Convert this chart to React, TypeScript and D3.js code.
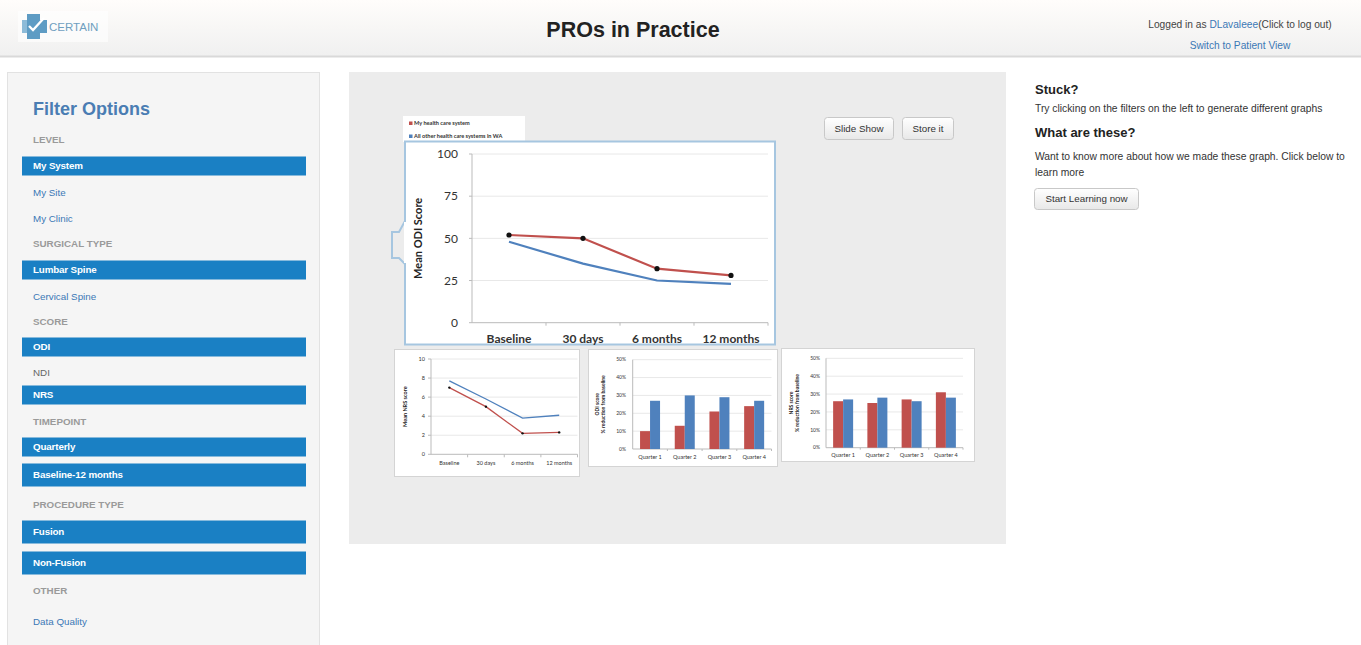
import React from "react";
import * as d3 from "d3";

// ---- data ----
const timepoints = ["Baseline", "30 days", "6 months", "12 months"];
const odiMySystem = [52, 50, 32, 28];
const odiOthers = [48, 35, 25, 23];
const odiTicks = [0, 25, 50, 75, 100];

const nrsMySystem = [7, 5, 2.2, 2.3];
const nrsOthers = [7.7, 5.8, 3.8, 4.1];
const nrsTicks = [0, 2, 4, 6, 8, 10];

const quarters = ["Quarter 1", "Quarter 2", "Quarter 3", "Quarter 4"];
const odiReductionMy = [10, 13, 21, 24];
const odiReductionOthers = [27, 30, 29, 27];
const nrsReductionMy = [26, 25, 27, 31];
const nrsReductionOthers = [27, 28, 26, 28];
const pctTicks = [0, 10, 20, 30, 40, 50];

const seriesNames = ["My health care system", "All other health care systems in WA"];

const filterItems = [
  { label: "LEVEL", kind: "head" },
  { label: "My System", kind: "on" },
  { label: "My Site", kind: "link" },
  { label: "My Clinic", kind: "link" },
  { label: "SURGICAL TYPE", kind: "head" },
  { label: "Lumbar Spine", kind: "on" },
  { label: "Cervical Spine", kind: "link" },
  { label: "SCORE", kind: "head" },
  { label: "ODI", kind: "on" },
  { label: "NDI", kind: "plain" },
  { label: "NRS", kind: "on" },
  { label: "TIMEPOINT", kind: "head" },
  { label: "Quarterly", kind: "on" },
  { label: "Baseline-12 months", kind: "on" },
  { label: "PROCEDURE TYPE", kind: "head" },
  { label: "Fusion", kind: "on" },
  { label: "Non-Fusion", kind: "on" },
  { label: "OTHER", kind: "head" },
  { label: "Data Quality", kind: "link" },
];
// vertical centre of each sidebar row, and bar heights for active ones
const filterY = [140, 166, 193, 219, 244, 270, 297, 322, 347, 373, 395, 422, 447, 475, 505, 532, 563, 591, 622];
const filterBarH = [0, 19, 0, 0, 0, 19, 0, 0, 19, 0, 19, 0, 19, 23, 0, 23, 23, 0, 0];

const RED = "#c0504d";
const BLUE = "#4f81bd";
const UI = "'Liberation Sans', Arial, Helvetica, sans-serif";
const XL = "Lato, 'Open Sans', sans-serif";

function LineChart({ x0, x1, y0, y1, ticks, max, my, others, fs, dot, title, tickX, labelY, titleX, bold }) {
  const x = d3.scaleBand().domain(timepoints).range([x0, x1]);
  const y = d3.scaleLinear().domain([0, max]).range([y0, y1]);
  const line = d3
    .line<number>()
    .x((d, i) => x(timepoints[i])! + x.bandwidth() / 2)
    .y((d) => y(d));
  return (
    <g>
      {ticks.map((t) => (
        <g key={t}>
          {t > 0 && <line x1={x0} x2={x1} y1={y(t)} y2={y(t)} stroke="#e8e8e8" strokeWidth={1} />}
          <line x1={x0 - 3} x2={x0} y1={y(t)} y2={y(t)} stroke="#bbb" />
          <text x={tickX} y={y(t)} dy="0.35em" textAnchor="end" fontSize={fs} fontFamily={XL} fill="#333">
            {t}
          </text>
        </g>
      ))}
      <line x1={x0} x2={x0} y1={y0} y2={y1} stroke="#bbb" />
      <line x1={x0} x2={x1} y1={y0} y2={y0} stroke="#bbb" />
      {timepoints.map((c, i) => (
        <g key={c}>
          <line x1={x(c)! + x.bandwidth()} x2={x(c)! + x.bandwidth()} y1={y0} y2={y0 + 3} stroke="#bbb" />
          <text
            x={x(c)! + x.bandwidth() / 2}
            y={labelY}
            dy="0.35em"
            textAnchor="middle"
            fontSize={fs}
            fontWeight={bold ? 700 : 400}
            fontFamily={XL}
            fill="#333"
          >
            {c}
          </text>
        </g>
      ))}
      <path d={line(others)!} fill="none" stroke={BLUE} strokeWidth={dot > 2 ? 2.2 : 1.3} />
      <path d={line(my)!} fill="none" stroke={RED} strokeWidth={dot > 2 ? 2.2 : 1.3} />
      {my.map((v, i) => (
        <circle key={i} cx={x(timepoints[i])! + x.bandwidth() / 2} cy={y(v)} r={dot} fill="#111" />
      ))}
      <text
        transform={`translate(${titleX},${(y0 + y1) / 2}) rotate(-90)`}
        textAnchor="middle"
        dy="0.35em"
        fontSize={bold ? 11 : 5.5}
        fontWeight={700}
        fontFamily={XL}
        fill="#222"
      >
        {title}
      </text>
    </g>
  );
}

function BarChart({ x0, x1, y0, y1, my, others, title, tickX, labelY, titleX }) {
  const x = d3.scaleBand().domain(quarters).range([x0, x1]);
  const y = d3.scaleLinear().domain([0, 50]).range([y0, y1]);
  const bw = 10;
  return (
    <g>
      {pctTicks.map((t) => (
        <g key={t}>
          {t > 0 && <line x1={x0} x2={x1} y1={y(t)} y2={y(t)} stroke="#e8e8e8" />}
          <text x={tickX} y={y(t)} dy="0.35em" textAnchor="end" fontSize={5} fontFamily={XL} fill="#333">
            {t}%
          </text>
        </g>
      ))}
      <line x1={x0} x2={x0} y1={y0} y2={y1} stroke="#bbb" />
      <line x1={x0} x2={x1} y1={y0} y2={y0} stroke="#bbb" />
      {quarters.map((q, i) => {
        const cx = x(q)! + x.bandwidth() / 2;
        return (
          <g key={q}>
            <line x1={x(q)! + x.bandwidth()} x2={x(q)! + x.bandwidth()} y1={y0} y2={y0 + 2} stroke="#bbb" />
            <rect x={cx - bw} y={y(my[i])} width={bw} height={y0 - y(my[i])} fill={RED} />
            <rect x={cx} y={y(others[i])} width={bw} height={y0 - y(others[i])} fill={BLUE} />
            <text x={cx} y={labelY} dy="0.35em" textAnchor="middle" fontSize={5.5} fontFamily={XL} fill="#333">
              {q}
            </text>
          </g>
        );
      })}
      <text
        transform={`translate(${titleX},${(y0 + y1) / 2}) rotate(-90)`}
        textAnchor="middle"
        fontSize={5}
        fontWeight={700}
        fontFamily={XL}
        fill="#222"
      >
        <tspan x={0} dy="-0.1em">{title}</tspan>
        <tspan x={0} dy="1.25em">% reduction from baseline</tspan>
      </text>
    </g>
  );
}

function Button({ x, y, w, h, label, fs }) {
  return (
    <g>
      <rect x={x} y={y} width={w} height={h} rx={3} fill="url(#btn)" stroke="#c8c8c8" />
      <text x={x + w / 2} y={y + h / 2} dy="0.35em" textAnchor="middle" fontSize={fs} fontFamily={UI} fill="#333">
        {label}
      </text>
    </g>
  );
}

export default function App() {
  return (
    <svg
      width={1361}
      height={645}
      style={{ position: "absolute", left: 0, top: 0, background: "#fff" }}
    >
      <defs>
        <linearGradient id="hdr" x1="0" y1="0" x2="0" y2="1">
          <stop offset="0" stopColor="#fffdfb" />
          <stop offset="1" stopColor="#f0f0f0" />
        </linearGradient>
        <linearGradient id="btn" x1="0" y1="0" x2="0" y2="1">
          <stop offset="0" stopColor="#ffffff" />
          <stop offset="1" stopColor="#e8e8e8" />
        </linearGradient>
      </defs>

      {/* header */}
      <rect x={0} y={0} width={1361} height={56} fill="url(#hdr)" />
      <line x1={0} x2={1361} y1={56.5} y2={56.5} stroke="#d9d9d9" strokeWidth={2} />
      <g>
        <rect x={18} y={11} width={90} height={31} fill="#fff" opacity={0.6} />
        <rect x={27} y={14} width={13} height={25} fill="#5e9cc4" />
        <rect x={22} y={20} width={25} height={13} fill="#5e9cc4" />
        <rect x={22} y={20} width={5} height={13} fill="#8dbbd8" />
        <path d="M29,26 L33,30 L44,18" fill="none" stroke="#fff" strokeWidth={2.3} />
        <text x={49} y={30.5} fontSize={11.5} fontFamily={UI} fill="#6f9fc0">
          CERTAIN
        </text>
      </g>
      <text x={633} y={37} textAnchor="middle" fontSize={21.5} fontWeight={700} fontFamily={UI} fill="#222">
        PROs in Practice
      </text>
      <text x={1240} y={28} textAnchor="middle" fontSize={10.2} fontFamily={UI} fill="#444">
        Logged in as <tspan fill="#3b78b5">DLavaleee</tspan>(Click to log out)
      </text>
      <text x={1240} y={49} textAnchor="middle" fontSize={10.2} fontFamily={UI} fill="#3b78b5">
        Switch to Patient View
      </text>

      {/* sidebar */}
      <rect x={7.5} y={72.5} width={312} height={590} fill="#f5f5f5" stroke="#e2e2e2" />
      <text x={33} y={115} fontSize={18} fontWeight={700} fontFamily={UI} fill="#4a7db3">
        Filter Options
      </text>
      {filterItems.map((f, i) => (
        <g key={f.label}>
          {f.kind === "on" && (
            <rect x={22} y={filterY[i] - filterBarH[i] / 2} width={284} height={filterBarH[i]} fill="#1a80c4" />
          )}
          <text
            x={33}
            y={filterY[i]}
            dy="0.35em"
            fontSize={f.kind === "head" ? 9.8 : 9.8}
            fontWeight={f.kind === "head" || f.kind === "on" ? 700 : 400}
            fontFamily={UI}
            letterSpacing={f.kind === "on" ? -0.15 : 0}
            fill={f.kind === "head" ? "#9a9a9a" : f.kind === "on" ? "#fff" : f.kind === "link" ? "#3b78b5" : "#666"}
          >
            {f.label}
          </text>
        </g>
      ))}

      {/* main panel */}
      <rect x={349} y={72} width={657} height={472} fill="#ececec" />
      <Button x={824.5} y={117.5} w={69} h={22} label="Slide Show" fs={9.8} />
      <Button x={902.5} y={117.5} w={51} h={22} label="Store it" fs={9.8} />

      {/* legend */}
      <rect x={403} y={116} width={122} height={26} fill="#fff" />
      {seriesNames.map((s, i) => (
        <g key={s}>
          <rect x={409} y={121.5 + i * 13} width={3.5} height={3.5} fill={i === 0 ? RED : BLUE} />
          <text x={414} y={123.3 + i * 13} dy="0.35em" fontSize={5.6} fontWeight={700} fontFamily={XL} fill="#333">
            {s}
          </text>
        </g>
      ))}

      {/* main chart box with notch */}
      <rect x={405} y={141.5} width={370} height={203} fill="#fff" stroke="#a6c6e0" strokeWidth={2} />
      <path d="M405,221 L399,232 L392,232 L392,258 L399,258 L405,264" fill="#ececec" stroke="#a6c6e0" strokeWidth={2} />
      <rect x={404} y={222} width={3} height={41} fill="#fff" />
      <LineChart
        x0={472}
        x1={768}
        y0={322.7}
        y1={154}
        ticks={odiTicks}
        max={100}
        my={odiMySystem}
        others={odiOthers}
        fs={12}
        dot={2.6}
        title="Mean ODI Score"
        tickX={458}
        labelY={339}
        titleX={418}
        bold
      />

      {/* small charts */}
      <rect x={394.5} y={349.5} width={185} height={127} fill="#fff" stroke="#d4d4d4" />
      <LineChart
        x0={431}
        x1={577.5}
        y0={454.3}
        y1={359}
        ticks={nrsTicks}
        max={10}
        my={nrsMySystem}
        others={nrsOthers}
        fs={5.5}
        dot={1.2}
        title="Mean NRS score"
        tickX={425}
        labelY={463}
        titleX={405}
        bold={false}
      />

      <rect x={588.5} y={349.5} width={189} height={117} fill="#fff" stroke="#d4d4d4" />
      <BarChart
        x0={632.7}
        x1={771.5}
        y0={449}
        y1={359.7}
        my={odiReductionMy}
        others={odiReductionOthers}
        title="ODI score"
        tickX={626}
        labelY={457.3}
        titleX={599}
      />

      <rect x={781.5} y={348.5} width={193} height={113} fill="#fff" stroke="#d4d4d4" />
      <BarChart
        x0={826}
        x1={963}
        y0={447.7}
        y1={358.3}
        my={nrsReductionMy}
        others={nrsReductionOthers}
        title="NRS score"
        tickX={820}
        labelY={455}
        titleX={793}
      />

      {/* right help column */}
      <text x={1035} y={93.5} fontSize={13} fontWeight={700} fontFamily={UI} fill="#222">
        Stuck?
      </text>
      <text x={1035} y={111.5} fontSize={10.3} fontFamily={UI} fill="#333">
        Try clicking on the filters on the left to generate different graphs
      </text>
      <text x={1035} y={137} fontSize={13} fontWeight={700} fontFamily={UI} fill="#222">
        What are these?
      </text>
      <text x={1035} y={160} fontSize={10.3} fontFamily={UI} fill="#333">
        Want to know more about how we made these graph. Click below to
      </text>
      <text x={1035} y={176} fontSize={10.3} fontFamily={UI} fill="#333">
        learn more
      </text>
      <Button x={1034.5} y={188.5} w={104} h={21} label="Start Learning now" fs={9.8} />
    </svg>
  );
}
